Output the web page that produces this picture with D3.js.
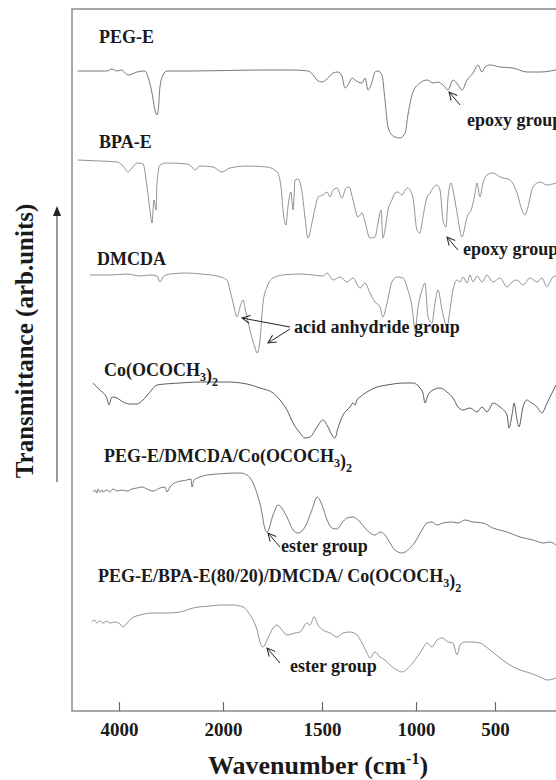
<!DOCTYPE html>
<html>
<head>
<meta charset="utf-8">
<script src="https://cdn.jsdelivr.net/npm/d3@7"></script>
<style>
  body { margin: 0; background: #fff; }
  svg text { font-family: "Liberation Serif", "Times New Roman", serif; font-weight: bold; fill: #1a1a1a; }
</style>
</head>
<body>
<div id="chart"></div>
<script>
// tick labels of the wavenumber axis (cm-1)
const tickValues = [4000, 2000, 1500, 1000, 500];

// spectra: [wavenumber, transmittance (arb. units, stacked)]
const pegE = [[4790,640],[4230,640],[4135,642],[4038,640],[3942,641],[3885,638],[3827,636],[3750,637],[3654,639],[3500,640],[3442,634],[3365,618],[3308,601],[3269,596],[3240,604],[3212,624],[3154,636],[3077,640],[2577,640],[1813,641],[1646,641],[1571,640],[1545,636],[1525,631],[1500,629],[1473,632],[1441,638],[1415,639],[1394,635],[1378,623],[1362,626],[1340,633],[1324,631],[1308,629],[1287,628],[1271,633],[1255,621],[1234,629],[1218,639],[1202,640],[1181,636],[1165,611],[1149,584],[1122,575],[1085,573],[1058,578],[1043,596],[1016,619],[975,628],[930,631],[892,628],[861,629],[829,626],[797,621],[766,631],[734,626],[709,621],[677,631],[639,638],[608,646],[582,639],[563,644],[532,646],[468,644],[386,643],[297,639],[214,639],[113,641]];

const bpaE = [[4790,551],[4365,550],[4038,549],[3923,545],[3827,539],[3750,543],[3654,548],[3538,547],[3461,524],[3404,501],[3365,488],[3327,511],[3288,501],[3269,528],[3212,546],[3077,548],[2692,547],[2596,544],[2538,541],[2442,545],[2192,544],[2019,539],[1965,543],[1879,545],[1778,544],[1727,539],[1707,524],[1697,501],[1682,486],[1672,504],[1657,519],[1646,501],[1636,531],[1621,532],[1601,519],[1586,494],[1571,473],[1551,488],[1535,503],[1520,514],[1495,516],[1473,519],[1457,514],[1441,521],[1420,523],[1394,513],[1372,523],[1356,524],[1335,511],[1308,494],[1287,498],[1271,489],[1245,473],[1218,474],[1202,488],[1186,501],[1176,473],[1165,481],[1149,501],[1128,511],[1112,518],[1096,519],[1074,516],[1058,521],[1043,523],[1016,513],[994,481],[975,478],[956,494],[930,514],[911,518],[892,523],[867,526],[848,521],[829,491],[810,484],[797,514],[778,528],[766,521],[740,498],[709,474],[677,494],[645,504],[626,518],[614,528],[595,514],[576,528],[551,536],[513,538],[468,534],[405,531],[360,518],[329,501],[310,496],[291,504],[259,524],[214,529],[170,526],[113,528]];

const dmcda = [[4558,436],[4173,436],[3846,437],[3596,435],[3404,436],[3269,435],[3212,429],[3154,434],[3019,437],[2692,438],[2442,437],[2115,435],[1980,431],[1965,421],[1949,408],[1929,394],[1914,404],[1899,411],[1889,403],[1864,381],[1838,363],[1828,358],[1813,371],[1798,408],[1778,424],[1747,433],[1697,436],[1611,437],[1545,436],[1495,435],[1473,438],[1441,431],[1404,434],[1367,429],[1335,433],[1298,423],[1271,428],[1245,418],[1218,409],[1191,404],[1176,394],[1154,408],[1128,429],[1101,434],[1069,433],[1043,421],[1021,404],[1005,381],[987,404],[962,421],[943,428],[924,394],[899,388],[880,408],[861,421],[835,401],[804,384],[785,401],[766,421],[740,431],[721,429],[702,434],[677,428],[658,436],[639,429],[614,435],[582,429],[551,436],[513,429],[468,433],[424,424],[392,429],[360,431],[322,426],[278,433],[233,429],[202,433],[170,424],[151,429],[132,434],[113,435]];

const coAcetate = [[4500,328],[4365,321],[4231,313],[4192,306],[4135,314],[4038,313],[3923,309],[3788,307],[3654,307],[3538,311],[3404,319],[3269,326],[2827,328],[2442,329],[1980,329],[1879,327],[1813,323],[1747,318],[1712,311],[1677,301],[1646,288],[1611,278],[1586,273],[1561,274],[1525,284],[1495,291],[1468,284],[1447,276],[1431,273],[1415,283],[1388,296],[1367,301],[1351,304],[1335,308],[1324,306],[1314,311],[1298,314],[1261,319],[1207,324],[1154,326],[1122,327],[1069,328],[1016,328],[975,323],[956,318],[943,308],[924,316],[892,321],[848,323],[804,319],[766,313],[734,304],[702,301],[658,303],[614,299],[582,304],[551,299],[532,303],[513,308],[468,304],[424,296],[411,283],[392,296],[379,308],[360,291],[348,284],[322,304],[297,311],[278,309],[233,304],[202,298],[170,308],[138,318],[113,326]];

const pegDmcdaCo = [[4500,219],[4462,221],[4423,218],[4404,222],[4365,219],[4327,221],[4308,219],[4231,221],[4173,219],[4115,222],[4038,220],[3942,221],[3846,220],[3750,222],[3654,223],[3558,224],[3461,222],[3346,220],[3212,223],[3115,224],[3077,219],[3019,224],[2885,229],[2692,231],[2615,232],[2596,224],[2558,231],[2442,234],[2308,236],[1914,238],[1879,236],[1848,228],[1823,214],[1803,198],[1793,186],[1778,179],[1747,196],[1722,206],[1677,194],[1646,181],[1621,178],[1586,184],[1551,201],[1525,214],[1500,206],[1473,191],[1447,183],[1420,182],[1394,188],[1367,193],[1335,194],[1298,189],[1271,183],[1245,178],[1218,176],[1191,179],[1165,176],[1138,168],[1112,161],[1074,158],[1043,161],[1005,169],[962,181],[930,188],[899,189],[867,186],[829,188],[772,189],[734,188],[690,191],[639,189],[576,188],[513,183],[424,179],[341,174],[259,171],[195,168],[151,169],[113,166]];

const pegBpaDmcdaCo = [[4519,89],[4462,91],[4423,88],[4365,90],[4308,88],[4231,90],[4173,88],[4077,89],[3981,87],[3923,84],[3846,88],[3750,93],[3596,96],[3346,98],[3077,98],[2827,99],[2577,103],[2250,105],[2058,106],[1949,106],[1899,104],[1874,99],[1848,91],[1828,81],[1813,69],[1798,64],[1773,73],[1747,83],[1727,86],[1702,81],[1677,76],[1636,78],[1611,79],[1576,88],[1561,86],[1540,94],[1520,86],[1495,81],[1457,78],[1420,74],[1388,78],[1351,79],[1314,76],[1287,68],[1261,58],[1245,53],[1218,59],[1191,54],[1165,51],[1138,46],[1101,41],[1074,39],[1043,43],[1005,51],[962,61],[930,68],[899,64],[867,71],[835,73],[797,69],[766,68],[740,56],[721,66],[690,69],[645,69],[595,68],[532,61],[468,53],[405,46],[341,41],[278,38],[214,34],[163,31],[113,33]];

const spectra = [pegE, bpaE, dmcda, coAcetate, pegDmcdaCo, pegBpaDmcdaCo];

// annotations: label, text anchor [wn, t], arrows [[fromWn, fromT, toWn, toT], ...]
const annotations = [
  {text: "epoxy group", at: [677, 585], arrows: [[721, 606, 791, 619]]},
  {text: "epoxy group", at: [702, 456], arrows: [[734, 461, 804, 474]]},
  {text: "acid anhydride group", at: [1641, 378], arrows: [[1662, 384, 1904, 393], [1662, 382, 1773, 368]]},
  {text: "ester group", at: [1707, 159], arrows: [[1712, 164, 1773, 178]]},
  {text: "ester group", at: [1662, 39], arrows: [[1712, 48, 1778, 63]]}
];

const width = 556, height = 780;
const frame = {left: 72, top: 9, bottom: 711};

const svg = d3.select("#chart").append("svg")
    .attr("width", width)
    .attr("height", height);

// the wavenumber axis is broken into segments of different scale
const x = d3.scaleLinear()
    .domain([4800, 4000, 2000, 1500, 1000, 500, 100])
    .range([77, 119, 223, 322, 416, 495, 558]);

const y = d3.scaleLinear()
    .domain([0, 702])
    .range([frame.bottom, frame.top]);

svg.append("defs").append("marker")
    .attr("id", "open-arrow")
    .attr("viewBox", "-10 -6 12 12")
    .attr("markerWidth", 12)
    .attr("markerHeight", 12)
    .attr("markerUnits", "userSpaceOnUse")
    .attr("orient", "auto")
    .append("path")
        .attr("d", "M-8,-4L0,0L-8,4")
        .attr("fill", "none")
        .attr("stroke", "#222")
        .attr("stroke-width", 1);

// frame
svg.append("path")
    .attr("d", `M${width},${frame.top}H${frame.left}V${frame.bottom}H${width}`)
    .attr("fill", "none")
    .attr("stroke", "#8a8a8a")
    .attr("stroke-width", 1.5);

// x axis with inward ticks
const xAxis = svg.append("g")
    .attr("transform", `translate(0,${frame.bottom})`)
    .call(d3.axisBottom(x).tickValues(tickValues).tickSize(-9).tickPadding(12).tickFormat(d3.format("d")));
xAxis.select(".domain").remove();
xAxis.selectAll(".tick line").attr("stroke", "#666").attr("stroke-width", 1.2);
xAxis.selectAll(".tick text")
    .attr("font-size", 19)
    .attr("font-family", "Liberation Serif, Times New Roman, serif")
    .attr("font-weight", "bold")
    .attr("fill", "#1a1a1a");

// spectra
const line = d3.line()
    .x(d => x(d[0]))
    .y(d => y(d[1]))
    .curve(d3.curveMonotoneX);

const spectrumColor = ["#555", "#777", "#777", "#333", "#555", "#777"];

svg.append("g")
    .selectAll("path")
    .data(spectra)
    .enter().append("path")
        .attr("d", line)
        .attr("fill", "none")
        .attr("stroke", (d, i) => spectrumColor[i])
        .attr("stroke-width", 0.8);

// series labels
const labels = svg.append("g").attr("font-size", 18);
function addLabel(parts, px, py) {
    const t = labels.append("text").attr("x", px).attr("y", py);
    parts.forEach(p => {
        if (typeof p === "string") {
            t.append("tspan").text(p);
        } else {
            t.append("tspan").attr("dy", 5).attr("font-size", 12).text(p.sub);
            t.append("tspan").attr("dy", -5).text("");
        }
    });
}
addLabel(["PEG-E"], 99, 43);
addLabel(["BPA-E"], 99, 148);
addLabel(["DMCDA"], 97, 265);
addLabel(["Co(OCOCH", {sub: "3"}, ")", {sub: "2"}], 104, 376);
addLabel(["PEG-E/DMCDA/Co(OCOCH", {sub: "3"}, ")", {sub: "2"}], 104, 462);
addLabel(["PEG-E/BPA-E(80/20)/DMCDA/ Co(OCOCH", {sub: "3"}, ")", {sub: "2"}], 98, 582);

// annotations
const notes = svg.append("g").attr("font-size", 18);
annotations.forEach(a => {
    notes.append("text")
        .attr("x", x(a.at[0]))
        .attr("y", y(a.at[1]))
        .text(a.text);
    a.arrows.forEach(r => {
        notes.append("line")
            .attr("x1", x(r[0])).attr("y1", y(r[1]))
            .attr("x2", x(r[2])).attr("y2", y(r[3]))
            .attr("stroke", "#222")
            .attr("stroke-width", 1)
            .attr("marker-end", "url(#open-arrow)");
    });
});

// axis titles
const xTitle = svg.append("text")
    .attr("x", 318)
    .attr("y", 774)
    .attr("text-anchor", "middle")
    .attr("font-size", 26)
    .text("Wavenumber (cm");
xTitle.append("tspan").attr("dy", -10).attr("font-size", 16).text("-1");
xTitle.append("tspan").attr("dy", 10).text(")");

svg.append("text")
    .attr("transform", "translate(33,341) rotate(-90)")
    .attr("text-anchor", "middle")
    .attr("font-size", 25)
    .text("Transmittance (arb.units)");

// arrow along the y axis
svg.append("line")
    .attr("x1", 57).attr("y1", 482)
    .attr("x2", 57).attr("y2", 212)
    .attr("stroke", "#333")
    .attr("stroke-width", 1);
svg.append("path")
    .attr("d", "M57,206L53,216L61,216Z")
    .attr("fill", "#222");
</script>
</body>
</html>
